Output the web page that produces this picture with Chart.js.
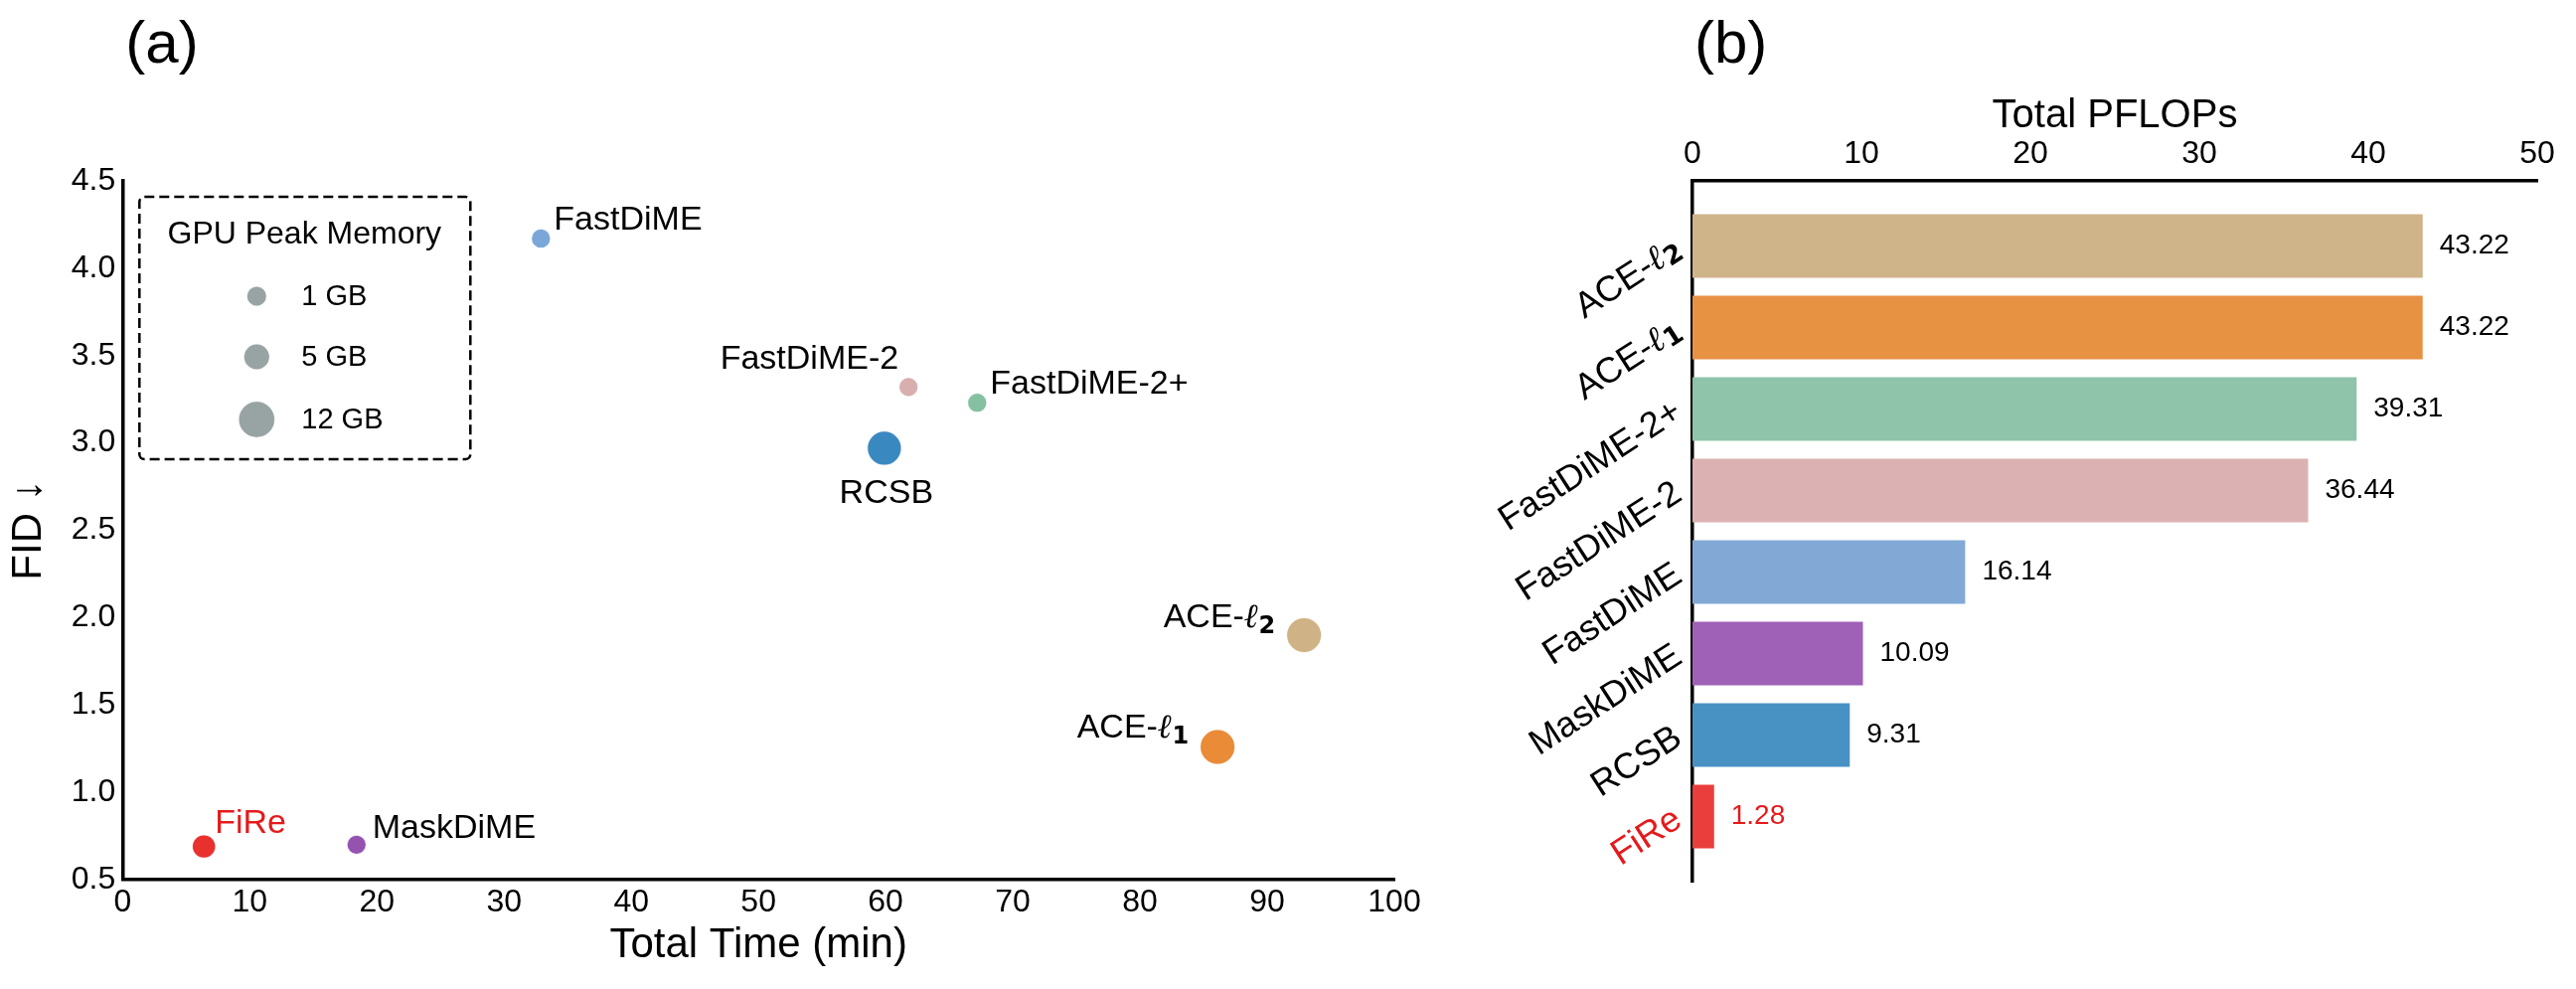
<!DOCTYPE html>
<html>
<head>
<meta charset="utf-8">
<script src="https://cdn.jsdelivr.net/npm/chart.js@4.4.1/dist/chart.umd.min.js"></script>
<style>
  body { margin: 0; background: #fff; }
  #wrap { position: relative; width: 2592px; height: 995px; }
  canvas { position: absolute; top: 0; }
  #chartA { left: 0; width: 1440px; height: 995px; }
  #chartB { left: 1440px; width: 1152px; height: 995px; }
</style>
</head>
<body>
<div id="wrap">
  <canvas id="chartA" width="1440" height="995"></canvas>
  <canvas id="chartB" width="1152" height="995"></canvas>
</div>
<script>
const FONT = "'Liberation Sans', Arial, sans-serif";

// (a) total time vs FID, dot size = GPU peak memory
const methods   = ["FiRe", "MaskDiME", "FastDiME", "FastDiME-2", "FastDiME-2+", "RCSB", "ACE-ℓ1", "ACE-ℓ2"];
const totalTime = [6.4, 18.4, 32.9, 61.8, 67.2, 59.9, 86.1, 92.9];
const fid       = [0.69, 0.70, 4.17, 3.32, 3.23, 2.97, 1.26, 1.90];
const gpuMemGB  = [3.3, 0.5, 0.5, 0.5, 0.5, 10.5, 11, 11];
const legendMemGB = [1, 5, 12];

// (b) total PFLOPs
const flopMethods = ["ACE-ℓ2", "ACE-ℓ1", "FastDiME-2+", "FastDiME-2", "FastDiME", "MaskDiME", "RCSB", "FiRe"];
const totalPflops = [43.22, 43.22, 39.31, 36.44, 16.14, 10.09, 9.31, 1.28];

const dotColors = {
  "FiRe": "#e8302f", "MaskDiME": "#9453b0", "FastDiME": "#7ba7d8", "FastDiME-2": "#d8aeae",
  "FastDiME-2+": "#85c0a3", "RCSB": "#3a88c0", "ACE-ℓ1": "#e98b37", "ACE-ℓ2": "#cfb285"
};
const barColors = {
  "FiRe": "#e93e3c", "MaskDiME": "#9f60b8", "FastDiME": "#82a9d5", "FastDiME-2": "#dbb2b1",
  "FastDiME-2+": "#8fc3aa", "RCSB": "#4891c3", "ACE-ℓ1": "#e79143", "ACE-ℓ2": "#cfb389"
};
const RED = "#e41a1c";

// where each scatter label sits relative to its dot
const labelPos = {
  "FiRe":        { dx: 11,  dy: -14, align: "left" },
  "MaskDiME":    { dx: 16,  dy: -7,  align: "left" },
  "FastDiME":    { dx: 13,  dy: -9,  align: "left" },
  "FastDiME-2":  { dx: -10, dy: -18, align: "right" },
  "FastDiME-2+": { dx: 13,  dy: -9,  align: "left" },
  "RCSB":        { dx: 2,   dy: 55,  align: "center" },
  "ACE-ℓ1":      { dx: -29, dy: -9,  align: "right" },
  "ACE-ℓ2":      { dx: -29, dy: -8,  align: "right" }
};

const memRadius = gb => 9.5 + 0.75 * gb;

// "ACE-ℓ2" -> ACE- + bold ℓ + bold subscript
function richParts(label, size) {
  const m = label.match(/^(.*)ℓ(\d)$/);
  if (!m) return [{ t: label, font: size + "px " + FONT, dy: 0 }];
  return [
    { t: m[1], font: size + "px " + FONT, dy: 0 },
    { t: "ℓ", font: "bold italic " + size + "px 'DejaVu Serif'", dy: 0 },
    { t: m[2], font: "bold " + Math.round(size * 0.72) + "px 'DejaVu Sans'", dy: size * 0.17 }
  ];
}
function drawRich(ctx, label, x, y, size, align, color) {
  const ps = richParts(label, size);
  let w = 0;
  ps.forEach(p => { ctx.font = p.font; p.w = ctx.measureText(p.t).width; w += p.w; });
  let cx = align === "right" ? x - w : align === "center" ? x - w / 2 : x;
  ctx.fillStyle = color;
  ctx.textAlign = "left";
  ps.forEach(p => { ctx.font = p.font; ctx.fillText(p.t, cx, y + p.dy); cx += p.w; });
}

const annotA = {
  id: "annotA",
  afterDatasetsDraw(chart) {
    const ctx = chart.ctx;
    const area = chart.chartArea;
    const meta = chart.getDatasetMeta(0);
    ctx.save();
    ctx.textBaseline = "alphabetic";
    methods.forEach((m, i) => {
      const el = meta.data[i];
      const p = labelPos[m];
      drawRich(ctx, m, el.x + p.dx, el.y + p.dy, 34, p.align, m === "FiRe" ? RED : "#000");
    });

    // memory legend
    const bx = area.left + 17, by = area.top + 16, bw = 333, bh = 264;
    ctx.setLineDash([10, 5]);
    ctx.lineWidth = 2.5;
    ctx.strokeStyle = "#000";
    ctx.beginPath();
    if (ctx.roundRect) ctx.roundRect(bx, by, bw, bh, 5); else ctx.rect(bx, by, bw, bh);
    ctx.stroke();
    ctx.setLineDash([]);
    ctx.fillStyle = "#000";
    ctx.font = "32px " + FONT;
    ctx.textAlign = "center";
    ctx.fillText("GPU Peak Memory", bx + 166, by + 47);
    const rowY = [100, 161, 224];
    legendMemGB.forEach((gb, i) => {
      ctx.beginPath();
      ctx.arc(bx + 118, by + rowY[i], memRadius(gb), 0, Math.PI * 2);
      ctx.fillStyle = "#98a3a3";
      ctx.fill();
      ctx.lineWidth = 1.5;
      ctx.strokeStyle = "rgba(255,255,255,0.85)";
      ctx.stroke();
      ctx.fillStyle = "#000";
      ctx.font = "29px " + FONT;
      ctx.textAlign = "left";
      ctx.textBaseline = "middle";
      ctx.fillText(gb + " GB", bx + 163, by + rowY[i] + 1);
      ctx.textBaseline = "alphabetic";
    });

    ctx.font = "60px " + FONT;
    ctx.textAlign = "left";
    ctx.fillText("(a)", area.left + 3, 63);
    ctx.restore();
  }
};

const annotB = {
  id: "annotB",
  afterDatasetsDraw(chart) {
    const ctx = chart.ctx;
    const area = chart.chartArea;
    const xs = chart.scales.x, ys = chart.scales.y;
    ctx.save();
    ctx.textBaseline = "middle";
    flopMethods.forEach((m, i) => {
      const y = ys.getPixelForValue(i);
      const color = m === "FiRe" ? RED : "#000";
      ctx.save();
      ctx.translate(area.left - 14, y);
      ctx.rotate(-33 * Math.PI / 180);
      drawRich(ctx, m, 0, 0, 36, "right", color);
      ctx.restore();
      ctx.font = "28px " + FONT;
      ctx.fillStyle = color;
      ctx.textAlign = "left";
      ctx.fillText(totalPflops[i].toFixed(2), xs.getPixelForValue(totalPflops[i]) + 17, y);
    });
    ctx.textBaseline = "alphabetic";
    ctx.fillStyle = "#000";
    ctx.font = "60px " + FONT;
    ctx.fillText("(b)", area.left + 2, 63);
    ctx.restore();
  }
};

const tickFont = { family: FONT, size: 32 };
const axisBorder = { display: true, color: "#000", width: 3.5 };

new Chart(document.getElementById("chartA"), {
  type: "scatter",
  data: {
    datasets: [{
      data: totalTime.map((t, i) => ({ x: t, y: fid[i] })),
      pointBackgroundColor: methods.map(m => dotColors[m]),
      pointBorderColor: "rgba(255,255,255,0.85)",
      pointBorderWidth: 1.5,
      pointRadius: gpuMemGB.map(memRadius),
      pointHoverRadius: gpuMemGB.map(memRadius)
    }]
  },
  options: {
    responsive: false,
    animation: false,
    devicePixelRatio: 1,
    layout: { padding: { left: 0, right: 37, top: 182, bottom: 0 } },
    plugins: { legend: { display: false }, tooltip: { enabled: false } },
    scales: {
      x: {
        type: "linear", min: 0, max: 100,
        grid: { display: false, drawTicks: false },
        border: axisBorder,
        ticks: { stepSize: 10, padding: 4, color: "#000", font: tickFont, maxRotation: 0 },
        title: { display: true, text: "Total Time (min)", color: "#000",
                 font: { family: FONT, size: 42 }, padding: { top: 0, bottom: 18 } },
        afterFit: s => { s.height = 110; }
      },
      y: {
        type: "linear", min: 0.5, max: 4.5,
        grid: { display: false, drawTicks: false },
        border: axisBorder,
        ticks: { stepSize: 0.5, padding: 7, color: "#000", font: tickFont,
                 callback: v => v.toFixed(1) },
        title: { display: true, text: "FID ↓", color: "#000",
                 font: { family: FONT, size: 42 }, padding: { top: 4, bottom: 0 } },
        afterFit: s => { s.width = 123.3; }
      }
    }
  },
  plugins: [annotA]
});

new Chart(document.getElementById("chartB"), {
  type: "bar",
  data: {
    datasets: [{
      data: totalPflops.map((v, i) => ({ x: v, y: i })),
      backgroundColor: flopMethods.map(m => barColors[m]),
      borderWidth: 0,
      categoryPercentage: 1,
      barPercentage: 0.78
    }]
  },
  options: {
    indexAxis: "y",
    responsive: false,
    animation: false,
    devicePixelRatio: 1,
    layout: { padding: { left: 0, right: 39, top: 0, bottom: 108 } },
    plugins: { legend: { display: false }, tooltip: { enabled: false } },
    scales: {
      x: {
        type: "linear", position: "top", min: 0, max: 50,
        grid: { display: false, drawTicks: false },
        border: axisBorder,
        ticks: { stepSize: 10, padding: 8, color: "#000", font: tickFont, maxRotation: 0 },
        title: { display: true, text: "Total PFLOPs", color: "#000",
                 font: { family: FONT, size: 40 }, padding: { top: 93, bottom: 0 } },
        afterFit: s => { s.height = 182; }
      },
      y: {
        type: "linear", reverse: true, min: -0.8, max: 7.8, offset: false,
        grid: { display: false, drawTicks: false, offset: false },
        border: axisBorder,
        ticks: { display: false },
        // one tick per category so the bar width follows the category spacing
        afterBuildTicks: s => { s.ticks = flopMethods.map((_, i) => ({ value: i })); },
        afterFit: s => { s.width = 263; }
      }
    }
  },
  plugins: [annotB]
});
</script>
</body>
</html>
